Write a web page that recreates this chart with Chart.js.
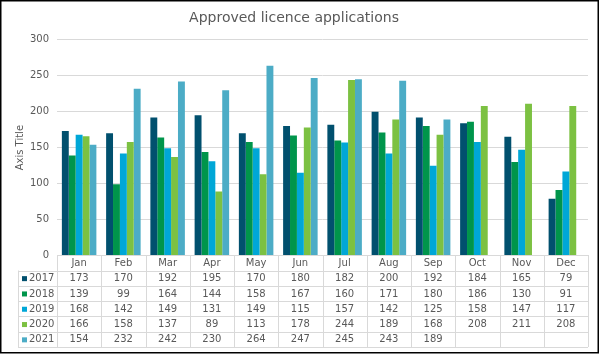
<!DOCTYPE html>
<html>
<head>
<meta charset="utf-8">
<script src="https://cdn.jsdelivr.net/npm/chart.js@4"></script>
<style>
  html, body { margin: 0; padding: 0; background: #ffffff; }
  #wrap { width: 600px; height: 354px; }
</style>
</head>
<body>
<div id="wrap"><canvas id="chart" width="600" height="354"></canvas></div>
<script>
var months = ["Jan", "Feb", "Mar", "Apr", "May", "Jun", "Jul", "Aug", "Sep", "Oct", "Nov", "Dec"];
var years = ["2017", "2018", "2019", "2020", "2021"];

var data2017 = [173, 170, 192, 195, 170, 180, 182, 200, 192, 184, 165, 79];
var data2018 = [139, 99, 164, 144, 158, 167, 160, 171, 180, 186, 130, 91];
var data2019 = [168, 142, 149, 131, 149, 115, 157, 142, 125, 158, 147, 117];
var data2020 = [166, 158, 137, 89, 113, 178, 244, 189, 168, 208, 211, 208];
var data2021 = [154, 232, 242, 230, 264, 247, 245, 243, 189, null, null, null];

var colors = ["#01506e", "#00954b", "#00a7d7", "#7cc142", "#4cacc6"];
var series = [data2017, data2018, data2019, data2020, data2021];

var textColor = "#595959";
var lineColor = "#d9d9d9";
var fontName = "'DejaVu Sans', Verdana, sans-serif";

// data table drawn under the plot, lined up with the x scale
var dataTable = {
    id: "dataTable",
    afterDraw: function(chart) {
        var ctx = chart.ctx;
        var area = chart.chartArea;
        var x = chart.scales.x;
        var catW = (area.right - area.left) / months.length;
        var top = area.bottom;
        var headBottom = top + 15;
        var rowH = 15.3;
        var bottom = headBottom + rowH * years.length;
        var leftEdge = 18;

        ctx.save();
        ctx.strokeStyle = lineColor;
        ctx.lineWidth = 1;
        ctx.beginPath();
        for (var i = 0; i <= years.length; i++) {
            var y = Math.round(headBottom + i * rowH) + 0.5;
            ctx.moveTo(leftEdge, y);
            ctx.lineTo(area.right, y);
        }
        for (var j = 0; j <= months.length; j++) {
            var vx = Math.round(area.left + j * catW) + 0.5;
            ctx.moveTo(vx, top);
            ctx.lineTo(vx, bottom);
        }
        ctx.moveTo(leftEdge + 0.5, headBottom);
        ctx.lineTo(leftEdge + 0.5, bottom);
        ctx.stroke();

        ctx.font = "10px " + fontName;
        ctx.fillStyle = textColor;
        ctx.textBaseline = "middle";
        for (var r = 0; r < years.length; r++) {
            var cy = headBottom + r * rowH + rowH / 2 + 0.5;
            ctx.fillStyle = colors[r];
            ctx.fillRect(22, cy - 2.5, 5, 5);
            ctx.fillStyle = textColor;
            ctx.textAlign = "left";
            ctx.fillText(years[r], 29, cy);
            ctx.textAlign = "center";
            for (var c = 0; c < months.length; c++) {
                var v = series[r][c];
                if (v === null) continue;
                ctx.fillText(String(v), x.getPixelForValue(c), cy);
            }
        }

        // outer frame
        ctx.strokeStyle = "#000000";
        ctx.lineWidth = 1.5;
        ctx.strokeRect(0.75, 0.75, 597.5, 352);
        ctx.restore();
    }
};

var datasets = [];
for (var k = 0; k < years.length; k++) {
    datasets.push({
        label: years[k],
        data: series[k],
        backgroundColor: colors[k],
        borderWidth: 0,
        categoryPercentage: 0.78,
        barPercentage: 1
    });
}

Chart.defaults.font.family = fontName;
Chart.defaults.color = textColor;

var chart = new Chart(document.getElementById("chart").getContext("2d"), {
    type: "bar",
    data: {
        labels: months,
        datasets: datasets
    },
    options: {
        responsive: false,
        animation: false,
        layout: {
            padding: { left: 0, right: 12, top: 0, bottom: 0 }
        },
        plugins: {
            legend: { display: false },
            tooltip: { enabled: false },
            title: {
                display: true,
                text: "Approved licence applications",
                color: textColor,
                font: { size: 14, weight: "normal" },
                padding: { top: 10, bottom: 13 }
            }
        },
        scales: {
            x: {
                grid: { display: false, drawTicks: false },
                border: { display: true, color: lineColor },
                ticks: { font: { size: 10 }, color: textColor, padding: 2, maxRotation: 0 },
                afterFit: function(scale) { scale.height = 98.5; }
            },
            y: {
                min: 0,
                max: 300,
                grid: { color: lineColor, drawTicks: false },
                border: { display: false },
                ticks: { stepSize: 50, font: { size: 10 }, color: textColor, padding: 8 },
                title: {
                    display: true,
                    text: "Axis Title",
                    color: textColor,
                    font: { size: 10 },
                    padding: { top: 14, bottom: 0 }
                },
                afterFit: function(scale) { scale.width = 57; }
            }
        }
    },
    plugins: [dataTable]
});
</script>
</body>
</html>
